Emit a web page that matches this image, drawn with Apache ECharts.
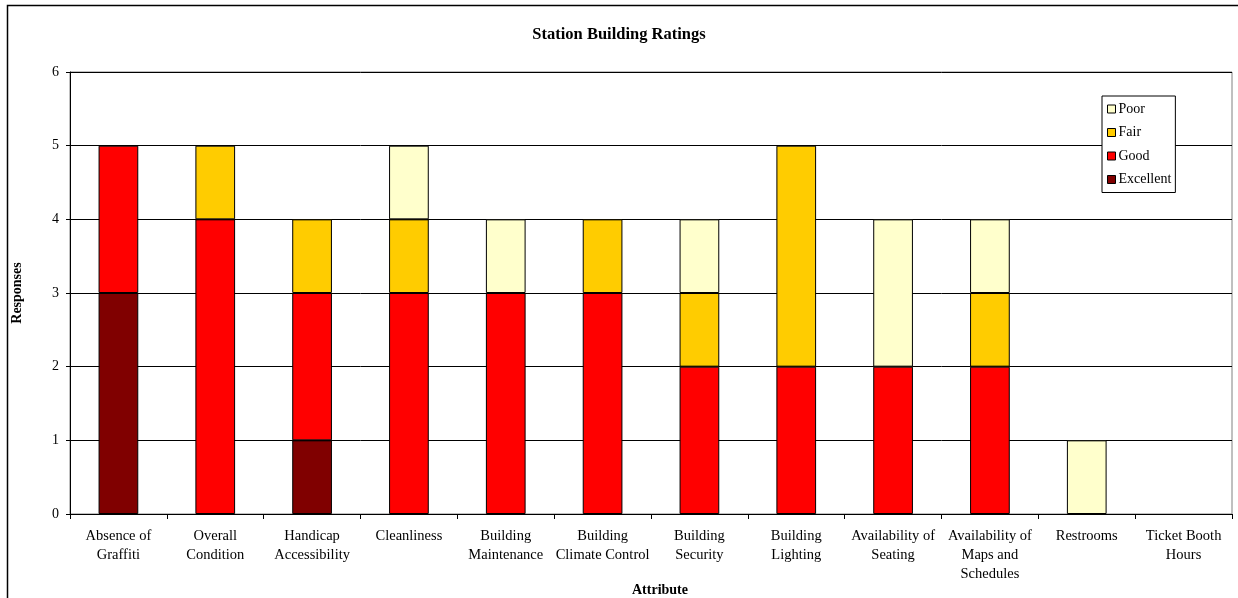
<!DOCTYPE html>
<html>
<head>
<meta charset="utf-8">
<title>Station Building Ratings</title>
<script src="https://cdn.jsdelivr.net/npm/echarts@6/dist/echarts.min.js"></script>
<style>
  html, body { margin: 0; padding: 0; background: #fff; }
  #chart { width: 1238px; height: 598px; }
</style>
</head>
<body>
<div id="chart"></div>
<script>
// Survey attributes and number of responses per rating
const categories = [
  'Absence of\nGraffiti', 'Overall\nCondition', 'Handicap\nAccessibility', 'Cleanliness',
  'Building\nMaintenance', 'Building\nClimate Control', 'Building\nSecurity', 'Building\nLighting',
  'Availability of\nSeating', 'Availability of\nMaps and\nSchedules', 'Restrooms', 'Ticket Booth\nHours'
];
const excellent = [3, 0, 1, 0, 0, 0, 0, 0, 0, 0, 0, 0];
const good      = [2, 4, 2, 3, 3, 3, 2, 2, 2, 2, 0, 0];
const fair      = [0, 1, 1, 1, 0, 1, 1, 3, 0, 1, 0, 0];
const poor      = [0, 0, 0, 1, 1, 0, 1, 0, 2, 1, 1, 0];
const yTicks    = [0, 1, 2, 3, 4, 5, 6];

const FONT = '"Liberation Serif", "Times New Roman", serif';
const skipZero = arr => arr.map(v => (v === 0 ? '-' : v));

function barSeries(name, values, color) {
  return {
    name: name,
    type: 'bar',
    stack: 'ratings',
    barWidth: '41%',
    data: skipZero(values),
    itemStyle: { color: color, borderColor: '#000', borderWidth: 1 },
    emphasis: { disabled: true }
  };
}

const chart = echarts.init(document.getElementById('chart'), null, { renderer: 'canvas' });
chart.setOption({
  animation: false,
  backgroundColor: '#fff',
  textStyle: { fontFamily: FONT },
  graphic: [{
    type: 'rect',
    shape: { x: 7.5, y: 5.5, width: 1400, height: 800 },
    style: { fill: null, stroke: '#000', lineWidth: 1.5 },
    z: -1
  }],
  title: {
    text: 'Station Building Ratings',
    left: 'center',
    top: 21,
    padding: [5, 0, 5, 8],
    textStyle: { fontFamily: FONT, fontSize: 16.5, fontWeight: 'bold', color: '#000' }
  },
  legend: {
    orient: 'vertical',
    left: 1102,
    top: 96,
    data: ['Poor', 'Fair', 'Good', 'Excellent'],
    itemWidth: 8,
    itemHeight: 8,
    itemGap: 9.5,
    padding: [6, 4, 6, 5],
    backgroundColor: '#fff',
    borderColor: '#000',
    borderWidth: 1,
    icon: 'rect',
    textStyle: { fontFamily: FONT, fontSize: 14, color: '#000', padding: [0, 0, 0, -2], lineHeight: 14 },
    itemStyle: { borderColor: '#000', borderWidth: 1 },
    selectedMode: false
  },
  grid: {
    left: 70,
    right: 6,
    top: 72,
    bottom: 84,
    show: true,
    borderColor: '#808080',
    borderWidth: 1,
    containLabel: false,
    outerBoundsMode: 'none'
  },
  xAxis: {
    type: 'category',
    data: categories,
    name: 'Attribute',
    nameLocation: 'middle',
    nameGap: 69,
    nameMoveOverlap: false,
    nameTextStyle: { fontFamily: FONT, fontSize: 14, fontWeight: 'bold', color: '#000', padding: [0, 0, 0, 18] },
    axisLine: { lineStyle: { color: '#000', width: 1 } },
    axisTick: { show: true, interval: 0, length: 5, lineStyle: { color: '#000' } },
    axisLabel: {
      interval: 0,
      margin: 13,
      fontFamily: FONT,
      fontSize: 14.5,
      lineHeight: 19,
      color: '#000'
    }
  },
  yAxis: {
    type: 'value',
    min: 0,
    max: 6,
    interval: 1,
    name: 'Responses',
    nameLocation: 'middle',
    nameGap: 46,
    nameRotate: 90,
    nameMoveOverlap: false,
    nameTextStyle: { fontFamily: FONT, fontSize: 14, fontWeight: 'bold', color: '#000' },
    axisLine: { show: true, lineStyle: { color: '#000', width: 1 } },
    axisTick: { show: true, length: 4, lineStyle: { color: '#000' } },
    axisLabel: {
      margin: 11,
      fontFamily: FONT,
      fontSize: 14,
      color: '#000',
      formatter: v => (yTicks.includes(v) ? String(v) : '')
    },
    splitLine: { show: true, lineStyle: { color: '#000', width: 1 } }
  },
  series: [
    barSeries('Excellent', excellent, '#800000'),
    barSeries('Good', good, '#FF0000'),
    barSeries('Fair', fair, '#FFCC00'),
    barSeries('Poor', poor, '#FFFFCC')
  ]
});
</script>
</body>
</html>
